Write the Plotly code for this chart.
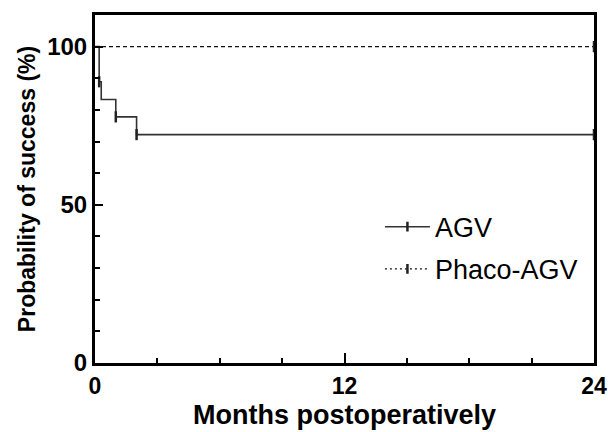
import plotly.graph_objects as go

# Data (Kaplan-Meier estimates)
agv_t = [0, 0.2, 0.3, 1.0, 2.0, 24]
agv_s = [100, 88.9, 83.3, 77.8, 72.2, 72.2]
agv_cens_t = [0.2, 1.0, 2.0, 24]
agv_cens_s = [88.9, 77.8, 72.2, 72.2]

phaco_t = [0, 24]
phaco_s = [100, 100]
phaco_cens_t = [24]
phaco_cens_s = [100]

x_ticks = [0, 12, 24]
y_ticks = [0, 50, 100]

FONT = "Liberation Sans, Arial, sans-serif"
cens_marker = dict(symbol="line-ns", size=8, line=dict(color="#222222", width=2.5))

fig = go.Figure()

fig.add_trace(go.Scatter(x=agv_t, y=agv_s, mode="lines",
                         line=dict(color="#333333", width=1.6, shape="hv"), showlegend=False))
fig.add_trace(go.Scatter(x=agv_cens_t, y=agv_cens_s, mode="markers", marker=cens_marker, showlegend=False))
fig.add_trace(go.Scatter(x=phaco_t, y=phaco_s, mode="lines",
                         line=dict(color="#111111", width=1.2, dash="4px,3px"), showlegend=False))
fig.add_trace(go.Scatter(x=phaco_cens_t, y=phaco_cens_s, mode="markers", marker=cens_marker, showlegend=False))

# legend entries
fig.add_trace(go.Scatter(x=[None], y=[None], mode="lines+markers", name="AGV", legendgroup="a",
                         line=dict(color="#333333", width=1.6),
                         marker=dict(symbol="line-ns", size=7, line=dict(color="#222222", width=2.5))))
fig.add_trace(go.Scatter(x=[None], y=[None], mode="lines+markers", name="Phaco-AGV", legendgroup="b",
                         line=dict(color="#111111", width=1.2, dash="2px,3px"),
                         marker=dict(symbol="line-ns", size=7, line=dict(color="#222222", width=2.5))))

fig.update_layout(
    width=608, height=432,
    margin=dict(l=95, r=14, t=15, b=69, autoexpand=False),
    paper_bgcolor="white", plot_bgcolor="white",
    font=dict(family=FONT, color="black"),
    legend=dict(x=0.571, y=0.33, xanchor="left", yanchor="middle", bgcolor="rgba(0,0,0,0)",
                font=dict(size=27, color="black", family=FONT), traceorder="grouped",
                tracegroupgap=4, itemwidth=45),
    xaxis=dict(range=[0, 24], tickvals=x_ticks, ticks="inside", ticklen=10, tickwidth=2,
               tickcolor="black", showline=True, linewidth=3, linecolor="black", mirror=True,
               showgrid=False, zeroline=False, automargin=False, ticklabeloverflow="allow",
               tickfont=dict(size=23, family=FONT, weight="bold"),
               minor=dict(dtick=3, ticks="inside", ticklen=5, tickwidth=2, tickcolor="black", showgrid=False),
               title=dict(text="Months postoperatively", standoff=8,
                          font=dict(size=27, family=FONT, weight="bold"))),
    yaxis=dict(range=[0, 110], tickvals=y_ticks, ticks="inside", ticklen=8, tickwidth=2,
               tickcolor="black", showline=True, linewidth=3, linecolor="black", mirror=True,
               showgrid=False, zeroline=False, automargin=False, ticklabeloverflow="allow",
               tickfont=dict(size=24, family=FONT, weight="bold"),
               minor=dict(dtick=10, ticks="inside", ticklen=5, tickwidth=2, tickcolor="black", showgrid=False),
               title=dict(text="Probability of success (%)", standoff=6,
                          font=dict(size=23, family=FONT, weight="bold"))),
)

fig.write_html("out.html")
